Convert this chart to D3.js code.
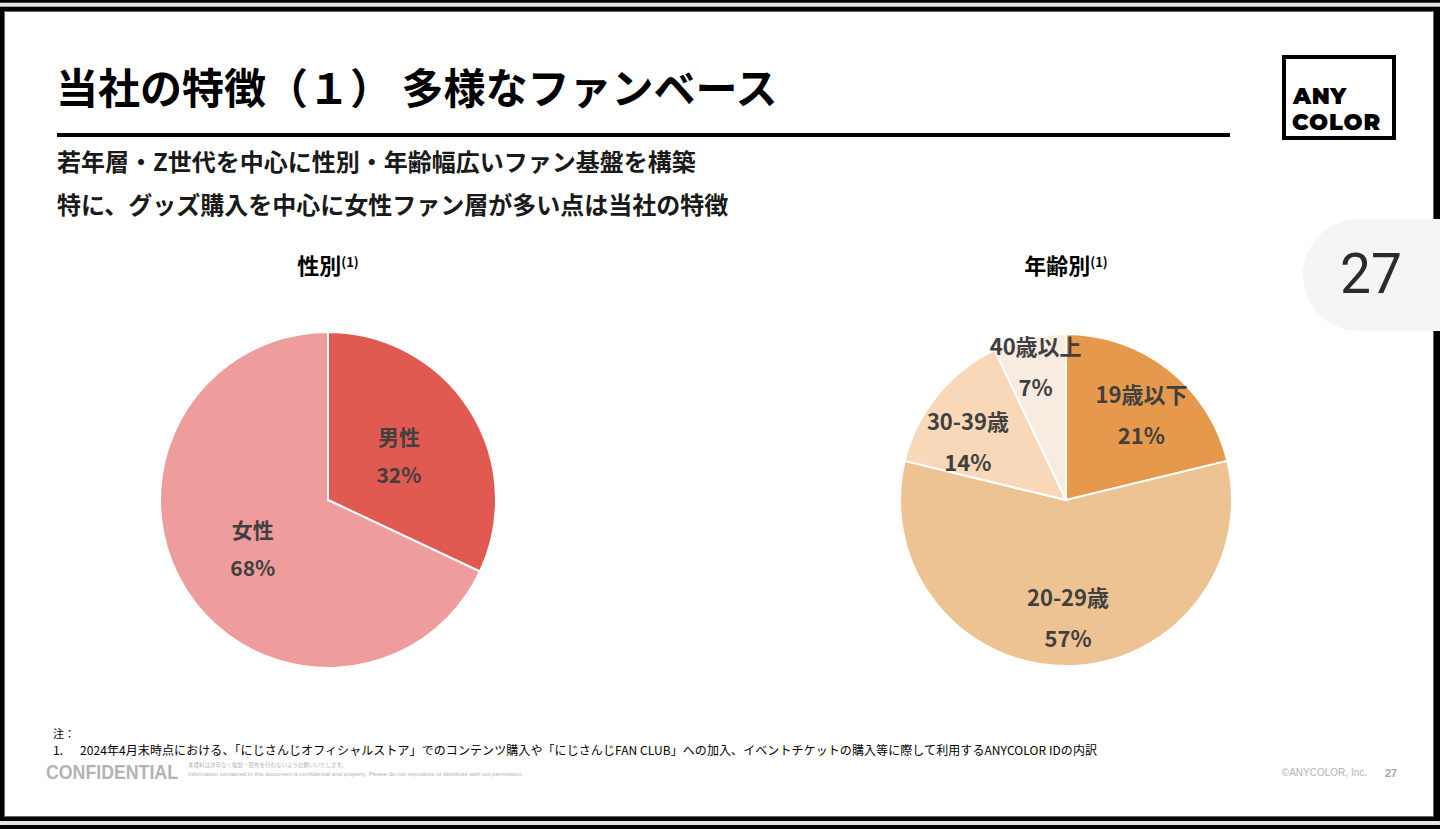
<!DOCTYPE html>
<html>
<head>
<meta charset="utf-8">
<script src="https://cdn.jsdelivr.net/npm/d3@7"></script>
<style>
html,body{margin:0;padding:0;background:#000;}
svg{display:block;}
</style>
</head>
<body>
<svg id="chart" width="1440" height="829"></svg>
<script>
// ---- data ----
const genderCategories = ["男性", "女性"];
const genderValues = [32, 68];
const genderColors = ["#E05A52", "#EE9C9C"];
const genderLabelRadius = [0.50, 0.53];
const genderLabelShift = [0, 0];

const ageCategories = ["19歳以下", "20-29歳", "30-39歳", "40歳以上"];
const ageValues = [21, 57, 14, 7];
const ageColors = ["#E6994C", "#EDC394", "#F8D8B8", "#F8EBE0"];
const ageLabelRadius = [0.69, 0.70, 0.69, 0.83];
const ageLabelShift = [3, -1, -8, 0];

const titleText = "当社の特徴（１） 多様なファンベース";
const subtitleLines = ["若年層・Z世代を中心に性別・年齢幅広いファン基盤を構築", "特に、グッズ購入を中心に女性ファン層が多い点は当社の特徴"];
const noteLines = ["注：", "2024年4月末時点における、「にじさんじオフィシャルストア」でのコンテンツ購入や「にじさんじFAN CLUB」への加入、イベントチケットの購入等に際して利用するANYCOLOR IDの内訳"];
const logoLines = ["ANY", "COLOR"];

const svg = d3.select("#chart");
const JP = "'Noto Sans CJK JP', 'Noto Sans', sans-serif";

// frame
svg.append("rect").attr("x",0).attr("y",0).attr("width",1440).attr("height",829).attr("fill","#000");
svg.append("rect").attr("x",0).attr("y",2.7).attr("width",1440).attr("height",4).attr("fill","#e4e4e4");
svg.append("rect").attr("x",0).attr("y",821).attr("width",1440).attr("height",4).attr("fill","#e4e4e4");
svg.append("rect").attr("x",4.5).attr("y",11.5).attr("width",1429).attr("height",805)
  .attr("fill","#fff").attr("stroke","#666").attr("stroke-width",1);

// page pill
svg.append("rect").attr("x",1303).attr("y",219).attr("width",200).attr("height",112).attr("rx",56)
  .attr("fill","#f5f5f5");
svg.append("text").attr("x",1371).attr("y",293).attr("text-anchor","middle")
  .attr("font-family","Roboto, 'Liberation Sans', sans-serif").attr("font-size",55).attr("fill","#2b2b2b")
  .text("27");

// title
svg.append("text").attr("x",56).attr("y",104).attr("font-family",JP).attr("font-weight",700)
  .attr("font-size",42).attr("fill","#000").text(titleText);
svg.append("rect").attr("x",57).attr("y",133).attr("width",1173).attr("height",4).attr("fill","#000");

// logo
svg.append("rect").attr("x",1284).attr("y",57).attr("width",110).attr("height",81)
  .attr("fill","none").attr("stroke","#000").attr("stroke-width",4);
const logo = svg.append("g").attr("font-family","Montserrat, Lato, 'Open Sans', sans-serif")
  .attr("font-weight",900).attr("fill","#000");
logo.append("text").attr("x",1293).attr("y",104).attr("font-size",22.5).attr("letter-spacing",0.6).text(logoLines[0]);
logo.append("text").attr("x",1292).attr("y",130).attr("font-size",22.5).attr("letter-spacing",0.9).text(logoLines[1]);

// subtitles
svg.selectAll("text.sub").data(subtitleLines).join("text").attr("class","sub")
  .attr("x",57).attr("y",(d,i)=>171 + i*43)
  .attr("font-family",JP).attr("font-weight",700).attr("font-size",24).attr("fill","#1a1a1a")
  .text(d=>d);

// pies
function drawPie(cx, cy, r, cats, vals, colors, lrad, lshift, title, fs, gap) {
  const g = svg.append("g").attr("transform",`translate(${cx},${cy})`);
  const pie = d3.pie().sort(null).value(d=>d.v);
  const data = pie(cats.map((c,i)=>({c, v: vals[i], col: colors[i], lr: lrad[i], sh: lshift[i]})));
  const arc = d3.arc().innerRadius(0).outerRadius(r);
  g.selectAll("path").data(data).join("path")
    .attr("d", arc).attr("fill", d=>d.data.col).attr("stroke","#fff").attr("stroke-width",2);
  const lab = g.selectAll("g.lab").data(data).join("g").attr("class","lab")
    .attr("transform", d=>{
      const a = (d.startAngle + d.endAngle)/2 + d.data.sh*Math.PI/180;
      const rr = r*d.data.lr;
      return `translate(${rr*Math.sin(a)},${-rr*Math.cos(a)})`;
    });
  lab.append("text").attr("y",-gap).attr("text-anchor","middle").attr("dominant-baseline","central")
    .attr("font-family",JP).attr("font-weight",700).attr("font-size",fs).attr("fill","#404040")
    .text(d=>d.data.c);
  lab.append("text").attr("y",gap).attr("text-anchor","middle").attr("dominant-baseline","central")
    .attr("font-family",JP).attr("font-weight",700).attr("font-size",fs).attr("fill","#404040")
    .text(d=>d.data.v + "%");
  const t = svg.append("text").attr("x",cx).attr("y",274).attr("text-anchor","middle")
    .attr("font-family",JP).attr("font-weight",700).attr("fill","#000");
  t.append("tspan").attr("font-size",22).text(title);
  t.append("tspan").attr("font-size",13).attr("dy",-7).text("(1)");
}
drawPie(328, 500, 168, genderCategories, genderValues, genderColors, genderLabelRadius, genderLabelShift, "性別", 21, 19);
drawPie(1066, 500, 166, ageCategories, ageValues, ageColors, ageLabelRadius, ageLabelShift, "年齢別", 22, 20.5);

// notes
svg.append("text").attr("x",53).attr("y",738).attr("font-family",JP).attr("font-size",11).attr("fill","#000").text(noteLines[0]);
svg.append("text").attr("x",53).attr("y",755).attr("font-family",JP).attr("font-size",12).attr("fill","#000").text("1.");
svg.append("text").attr("x",80).attr("y",755).attr("font-family",JP).attr("font-size",12).attr("fill","#000")
  .attr("textLength",1017).attr("lengthAdjust","spacing").text(noteLines[1]);

// footer
svg.append("text").attr("x",46).attr("y",779).attr("font-family","'Liberation Sans', Arial, sans-serif")
  .attr("font-weight",700).attr("font-size",21).attr("fill","#b3b3b3")
  .attr("textLength",132).attr("lengthAdjust","spacingAndGlyphs").text("CONFIDENTIAL");
svg.append("text").attr("x",188).attr("y",767).attr("font-family",JP).attr("font-size",5.5).attr("fill","#b3b3b3")
  .text("本資料は許可なく複製・配布を行わないようお願いいたします。");
svg.append("text").attr("x",188).attr("y",776).attr("font-family","'Liberation Sans', Arial, sans-serif").attr("font-size",6)
  .attr("fill","#b3b3b3").attr("textLength",335).attr("lengthAdjust","spacingAndGlyphs")
  .text("Information contained in this document is confidential and property. Please do not reproduce or distribute with out permission.");
svg.append("text").attr("x",1367).attr("y",776).attr("text-anchor","end").attr("font-family","'Liberation Sans', Arial, sans-serif")
  .attr("font-size",10).attr("fill","#b3b3b3").text("©ANYCOLOR, Inc.");
svg.append("text").attr("x",1385).attr("y",777).attr("font-family","'Liberation Sans', Arial, sans-serif")
  .attr("font-weight",700).attr("font-size",11).attr("fill","#a6a6a6").text("27");
</script>
</body>
</html>
